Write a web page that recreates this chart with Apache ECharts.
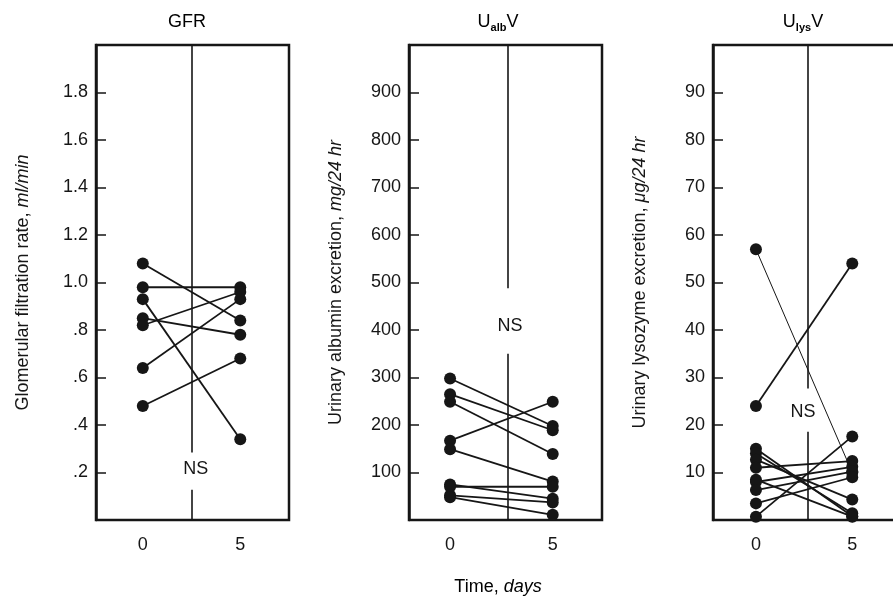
<!DOCTYPE html>
<html>
<head>
<meta charset="utf-8">
<script src="https://cdn.jsdelivr.net/npm/echarts@6/dist/echarts.min.js"></script>
<style>
    html, body { margin: 0; padding: 0; background: #fff; }
    #chart { width: 893px; height: 604px; }
</style>
</head>
<body>
<div id="chart"></div>
<script>
// values, one entry per subject
var days = [0, 5];
var gfrDay0 = [1.08, 0.98, 0.93, 0.85, 0.82, 0.64, 0.48];
var gfrDay5 = [0.84, 0.98, 0.34, 0.78, 0.96, 0.93, 0.68];
var albDay0 = [298, 265, 249, 167, 149, 75, 70, 52, 48];
var albDay5 = [198, 189, 139, 249, 81, 45, 70, 37, 11];
var lysDay0 = [57, 24, 15, 14, 12.7, 11, 8.5, 8, 6.3, 3.5, 0.7];
var lysDay5 = [10, 54, 0.8, 1.4, 4.3, 12.4, 0.7, 11.2, 10.2, 9, 17.6];

// tick labels
var gfrTicks = [0.2, 0.4, 0.6, 0.8, 1.0, 1.2, 1.4, 1.6, 1.8];
var albTicks = [100, 200, 300, 400, 500, 600, 700, 800, 900];
var lysTicks = [10, 20, 30, 40, 50, 60, 70, 80, 90];

var FONT = '"Liberation Sans", Arial, Helvetica, sans-serif';
var INK = '#161616';

// layout of the three panels
var panels = [
    {
        left: 96, xMin: -2.4, xMax: 7.5, yMax: 2, ticks: gfrTicks,
        fmt: function (v) { return v.toFixed(1).replace(/^0/, ''); },
        name: '{n|Glomerular filtration rate, }{i|ml/min}',
        d0: gfrDay0, d5: gfrDay5,
        divX: 2.52, gapTop: 0.284, gapBot: 0.127, nsX: 2.72, nsY: 0.214
    },
    {
        left: 409, xMin: -2.0, xMax: 7.4, yMax: 1000, ticks: albTicks,
        fmt: function (v) { return String(v); },
        name: '{n|Urinary albumin excretion, }{i|mg/24 hr}',
        d0: albDay0, d5: albDay5,
        divX: 2.8, gapTop: 488, gapBot: 350, nsX: 2.92, nsY: 408
    },
    {
        left: 713, xMin: -2.23, xMax: 7.79, yMax: 100, ticks: lysTicks,
        fmt: function (v) { return String(v); },
        name: '{n|Urinary lysozyme excretion, }{i|\u03bcg/24 hr}',
        d0: lysDay0, d5: lysDay5,
        divX: 2.67, gapTop: 27.7, gapBot: 18.6, nsX: 2.44, nsY: 22.7
    }
];
var thinLines = { 2: [0] };

var myChart = echarts.init(document.getElementById('chart'));

var grids = [], xAxes = [], yAxes = [], series = [];
panels.forEach(function (p, k) {
    grids.push({
        left: p.left, top: 45, width: 193, height: 475,
        outerBoundsMode: 'none', containLabel: false,
        show: true, borderColor: INK, borderWidth: 2.5, backgroundColor: 'transparent'
    });
    xAxes.push({
        type: 'value', gridIndex: k, min: p.xMin, max: p.xMax,
        splitLine: { show: false }, axisLine: { show: false }, axisTick: { show: false },
        axisLabel: { customValues: days, margin: 16, fontSize: 18, color: INK, fontFamily: FONT }
    });
    yAxes.push({
        type: 'value', gridIndex: k, min: 0, max: p.yMax,
        splitLine: { show: false },
        axisLine: { show: true, onZero: false, lineStyle: { color: INK, width: 2.5 } },
        axisTick: { show: true, inside: true, length: 10, customValues: p.ticks, lineStyle: { color: INK, width: 1.5 } },
        axisLabel: { customValues: p.ticks, formatter: p.fmt, margin: 8, fontSize: 18, color: INK, fontFamily: FONT },
        name: p.name, nameLocation: 'middle', nameRotate: 90, nameGap: 64,
        nameTextStyle: {
            rich: {
                n: { fontSize: 18, color: INK, fontFamily: FONT },
                i: { fontSize: 18, color: INK, fontFamily: FONT, fontStyle: 'italic' }
            }
        }
    });
    p.d0.forEach(function (v0, i) {
        var thin = thinLines[k] && thinLines[k].indexOf(i) >= 0;
        var s = {
            type: 'line', xAxisIndex: k, yAxisIndex: k,
            data: [[days[0], v0], [days[1], p.d5[i]]],
            symbol: 'circle', symbolSize: 12, silent: true,
            lineStyle: { color: INK, width: thin ? 1 : 1.8 },
            itemStyle: { color: INK },
            z: 3
        };
        if (i === 0) {
            // divider with a gap for the NS label
            s.markLine = {
                silent: true, symbol: 'none', animation: false,
                lineStyle: { color: INK, width: 1.6, type: 'solid' },
                label: { show: false },
                data: [
                    [{ coord: [p.divX, p.yMax] }, { coord: [p.divX, p.gapTop] }],
                    [{ coord: [p.divX, p.gapBot] }, { coord: [p.divX, 0] }]
                ]
            };
            s.markPoint = {
                silent: true, animation: false, symbol: 'circle', symbolSize: 1,
                itemStyle: { color: 'rgba(0,0,0,0)' },
                label: { show: true, position: 'inside', formatter: 'NS', fontSize: 18, color: INK, fontFamily: FONT },
                data: [{ coord: [p.nsX, p.nsY] }]
            };
        }
        series.push(s);
    });
});

var titleStyle = {
    m: { fontSize: 18, color: INK, fontFamily: FONT, lineHeight: 22 },
    s: { fontSize: 11, color: INK, fontFamily: FONT, lineHeight: 9, verticalAlign: 'bottom', fontWeight: 'bold' },
    i: { fontSize: 18, color: INK, fontFamily: FONT, fontStyle: 'italic', lineHeight: 22 }
};
function label(x, y, text) {
    return {
        type: 'text', x: x, y: y, silent: true,
        style: { text: text, rich: titleStyle, align: 'center', verticalAlign: 'middle' }
    };
}

myChart.setOption({
    animation: false,
    backgroundColor: '#fff',
    grid: grids,
    xAxis: xAxes,
    yAxis: yAxes,
    series: series,
    graphic: [
        label(187, 22, '{m|GFR}'),
        label(498, 22, '{m|U}{s|alb}{m|V}'),
        label(803, 22, '{m|U}{s|lys}{m|V}'),
        label(498, 587, '{m|Time, }{i|days}')
    ]
});
</script>
</body>
</html>
